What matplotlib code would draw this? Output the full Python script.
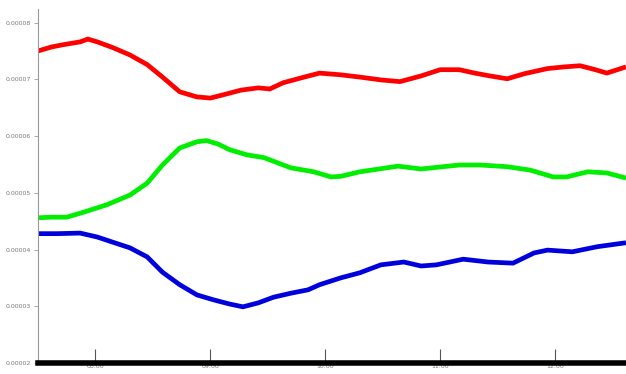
import matplotlib
matplotlib.use("Agg")
import matplotlib.pyplot as plt
import matplotlib.dates as mdates
from matplotlib.ticker import FuncFormatter
import pandas as pd

day = "2020-01-01 "

# red series
red_times = ["07:30", "07:37", "07:43", "07:52", "07:56", "08:01", "08:09", "08:18",
             "08:27", "08:35", "08:44", "08:53", "09:00", "09:07", "09:16", "09:25",
             "09:31", "09:38", "09:49", "09:57", "10:08", "10:18", "10:29", "10:39",
             "10:50", "11:00", "11:10", "11:18", "11:26", "11:35", "11:44", "11:56",
             "12:05", "12:13", "12:21", "12:27", "12:37"]
red_vals = [7.50, 7.57, 7.61, 7.66, 7.71, 7.66, 7.56, 7.43,
            7.26, 7.04, 6.78, 6.69, 6.67, 6.73, 6.81, 6.85,
            6.83, 6.94, 7.04, 7.11, 7.08, 7.04, 6.99, 6.96,
            7.06, 7.17, 7.17, 7.11, 7.06, 7.01, 7.10, 7.19,
            7.22, 7.24, 7.17, 7.11, 7.22]

# green series
green_times = ["07:30", "07:37", "07:45", "07:54", "08:06", "08:18", "08:27", "08:35",
               "08:44", "08:53", "08:58", "09:04", "09:10", "09:19", "09:28", "09:42",
               "09:54", "10:03", "10:08", "10:18", "10:38", "10:50", "11:10", "11:21",
               "11:35", "11:47", "11:59", "12:06", "12:17", "12:27", "12:37"]
green_vals = [4.56, 4.57, 4.57, 4.66, 4.79, 4.96, 5.17, 5.49,
              5.79, 5.90, 5.92, 5.86, 5.76, 5.67, 5.62, 5.44,
              5.37, 5.28, 5.29, 5.37, 5.47, 5.42, 5.49, 5.49,
              5.46, 5.40, 5.28, 5.28, 5.37, 5.35, 5.26]

# blue series
blue_times = ["07:30", "07:40", "07:52", "08:01", "08:09", "08:18", "08:27", "08:35",
              "08:44", "08:53", "09:02", "09:10", "09:17", "09:25", "09:33", "09:42",
              "09:51", "09:57", "10:08", "10:18", "10:29", "10:41", "10:50", "10:58",
              "11:12", "11:25", "11:38", "11:49", "11:56", "12:09", "12:22", "12:37"]
blue_vals = [4.28, 4.28, 4.29, 4.22, 4.13, 4.03, 3.87, 3.60,
             3.38, 3.20, 3.11, 3.04, 2.99, 3.06, 3.16, 3.23,
             3.29, 3.38, 3.50, 3.59, 3.73, 3.78, 3.71, 3.73,
             3.83, 3.78, 3.76, 3.94, 3.99, 3.96, 4.05, 4.12]

y_ticks = [2, 3, 4, 5, 6, 7, 8]
x_ticks = ["08:00", "09:00", "10:00", "11:00", "12:00"]


def to_dt(times):
    return pd.to_datetime([day + t for t in times])


def scale(vals):
    return [v * 1e-5 for v in vals]


fig = plt.figure(figsize=(6.26, 3.74), dpi=100)
ax = fig.add_axes([38 / 626, 11 / 374, 588 / 626, 354 / 374])

for times, vals, col in [(red_times, red_vals, "#ff0000"),
                         (green_times, green_vals, "#00ee00"),
                         (blue_times, blue_vals, "#0000dd")]:
    ax.plot(to_dt(times), scale(vals), color=col, lw=3.4,
            solid_capstyle="butt", solid_joinstyle="round")

ax.set_xlim(pd.Timestamp(day + "07:30"), pd.Timestamp(day + "12:37"))
ax.set_ylim(2e-5, 8.24e-5)

ax.set_yticks(scale(y_ticks))
ax.yaxis.set_major_formatter(FuncFormatter(lambda v, p: "%.5f" % v))
ax.set_xticks(to_dt(x_ticks))
ax.xaxis.set_major_formatter(mdates.DateFormatter("%H:%M"))

ax.spines["top"].set_visible(False)
ax.spines["right"].set_visible(False)
ax.spines["left"].set_color("#999999")
ax.spines["left"].set_linewidth(0.8)
ax.spines["bottom"].set_color("black")
ax.spines["bottom"].set_linewidth(4)

ax.tick_params(axis="y", direction="out", length=3, width=0.6, color="#999999",
               labelsize=4.5, labelcolor="#777777", pad=2)
ax.tick_params(axis="x", direction="in", length=10, width=0.8, color="#555555",
               labelsize=4.5, labelcolor="#777777", pad=1)

fig.savefig("out.png", dpi=100, facecolor="white")
